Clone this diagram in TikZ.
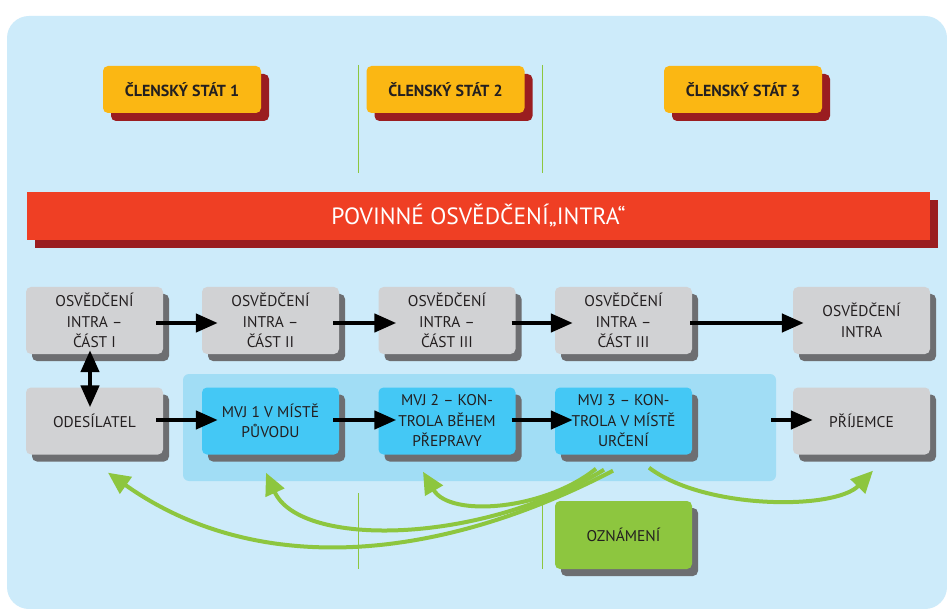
\documentclass[tikz,border=0pt]{standalone}
\usepackage{fontspec}
\setmainfont{PT Sans}
\usetikzlibrary{arrows.meta,shadows,calc}
\definecolor{bgc}{HTML}{CDEBFA}
\definecolor{zonec}{HTML}{A1DDF5}
\definecolor{grayc}{HTML}{D1D2D4}
\definecolor{shadc}{HTML}{6D6E71}
\definecolor{bluec}{HTML}{44C8F5}
\definecolor{yelc}{HTML}{FBB713}
\definecolor{redc}{HTML}{EF3F24}
\definecolor{dredc}{HTML}{9A1D20}
\definecolor{grnc}{HTML}{8DC63F}
\definecolor{txtc}{HTML}{231F20}
\tikzset{
  basebox/.style={rounded corners=5pt, minimum width=137pt, minimum height=67pt, align=center,
    text=txtc, inner sep=0pt, font=\fontsize{15.5}{20.5}\selectfont,
    drop shadow={shadow xshift=6pt, shadow yshift=-7pt, fill=shadc, opacity=1}},
  gbox/.style={basebox, fill=grayc},
  bbox/.style={basebox, fill=bluec},
  nbox/.style={basebox, fill=grnc, minimum height=68pt},
  ybox/.style={rounded corners=5pt, fill=yelc, minimum width=158pt, minimum height=47pt,
    text=txtc, inner sep=0pt, font=\fontsize{16}{18}\selectfont\bfseries,
    drop shadow={shadow xshift=8pt, shadow yshift=-8pt, fill=dredc, opacity=1}},
  rbar/.style={fill=redc, minimum width=903pt, minimum height=48pt, inner sep=0pt, text=white,
    font=\fontsize{23.5}{26}\selectfont,
    drop shadow={shadow xshift=8pt, shadow yshift=-8pt, fill=dredc, opacity=1}},
  zone/.style={fill=zonec, rounded corners=6pt, minimum width=593pt, minimum height=107pt, inner sep=0pt},
  blk/.style={line width=4.5pt, black, -{Triangle[length=22pt,width=18pt]}},
  blk2/.style={line width=4.5pt, black, {Triangle[length=22pt,width=18pt]}-{Triangle[length=22pt,width=18pt]}},
  grn/.style={line width=4pt, grnc, -{Triangle[length=22pt,width=20pt]}},
  vline/.style={grnc, line width=1pt}
}
\begin{document}
\begin{tikzpicture}[x=1pt,y=-1pt]
\useasboundingbox (0,0) rectangle (947,609);
\fill[white] (0,0) rectangle (947,609);
\fill[bgc, rounded corners=22pt] (7,16) rectangle (947,609);

% vertical separator lines
\draw[vline] (358.5,65) -- (358.5,173);
\draw[vline] (542,65) -- (542,173);
\draw[vline] (358.5,493) -- (358.5,569);
\draw[vline] (542,497) -- (542,569);

% member states
\node[ybox] (s1) at (182,89.5) {ČLENSKÝ STÁT 1};
\node[ybox] (s2) at (445.5,89.5) {ČLENSKÝ STÁT 2};
\node[ybox] (s3) at (743,89.5) {ČLENSKÝ STÁT 3};

% banner
\node[rbar] (bar) at (478.5,216) {POVINNÉ OSVĚDČENÍ„INTRA“};

% zone
\node[zone] (zone) at (479.5,427.5) {};

% row 1
\node[gbox] (a1) at (94.5,320.5) {OSVĚDČENÍ\\INTRA –\\ČÁST I};
\node[gbox] (a2) at (270.5,320.5) {OSVĚDČENÍ\\INTRA –\\ČÁST II};
\node[gbox] (a3) at (447,320.5) {OSVĚDČENÍ\\INTRA –\\ČÁST III};
\node[gbox] (a4) at (623.5,320.5) {OSVĚDČENÍ\\INTRA –\\ČÁST III};
\node[gbox] (a5) at (861.5,320.5) {OSVĚDČENÍ\\INTRA};

% row 2
\node[gbox] (b1) at (94.5,421) {ODESÍLATEL};
\node[bbox] (b2) at (270.5,421) {MVJ 1 V MÍSTĚ\\PŮVODU};
\node[bbox] (b3) at (447,421) {MVJ 2 – KON-\\TROLA BĚHEM\\PŘEPRAVY};
\node[bbox] (b4) at (623.5,421) {MVJ 3 – KON-\\TROLA V MÍSTĚ\\URČENÍ};
\node[gbox] (b5) at (861.5,421) {PŘÍJEMCE};

% notification
\node[nbox] (n) at (623.5,535) {OZNÁMENÍ};

% black arrows row 1
\draw[blk] ([xshift=-7pt,yshift=-2.5pt]a1.east) -- ([xshift=16pt,yshift=-2.5pt]a2.west);
\draw[blk] ([xshift=-6pt,yshift=-2.5pt]a2.east) -- ([xshift=18pt,yshift=-2.5pt]a3.west);
\draw[blk] ([xshift=-4pt,yshift=-2.5pt]a3.east) -- ([xshift=18pt,yshift=-2.5pt]a4.west);
\draw[blk] ([xshift=-2pt,yshift=-2.5pt]a4.east) -- ([xshift=11pt,yshift=-2.5pt]a5.west);
% row 2
\draw[blk] ([xshift=-7pt,yshift=1pt]b1.east) -- ([xshift=16pt,yshift=1pt]b2.west);
\draw[blk] ([xshift=-6pt,yshift=1pt]b2.east) -- ([xshift=18pt,yshift=1pt]b3.west);
\draw[blk] ([xshift=-4pt,yshift=1pt]b3.east) -- ([xshift=18pt,yshift=1pt]b4.west);
\draw[blk] ($(zone.east |- b5.west)+(-5,-1)$) -- ([xshift=20pt,yshift=1pt]b5.west);
% vertical double arrow
\draw[blk2] ([xshift=-4.5pt,yshift=4pt]a1.south) -- ([xshift=-4.5pt,yshift=-20pt]b1.north);

% green arrows
\draw[grn] ($(b4.south)+(-10.5,16)$) .. controls (440,561) and (258,579) .. ($(b1.south)+(13.5,18)$);
\draw[grn] ($(b4.south)+(-19.5,15)$) .. controls (480,545) and (300,548) .. ($(b2.south)+(-4.5,18)$);
\draw[grn] ($(b4.south)+(-27.5,14)$) .. controls (545,510) and (450,518) .. ($(b3.south)+(-24,17)$);
\draw[grn] ($(b4.south)+(25.5,13)$) .. controls (705,510) and (835,510) .. ($(b5.south)+(11.5,16)$);
\end{tikzpicture}
\end{document}
